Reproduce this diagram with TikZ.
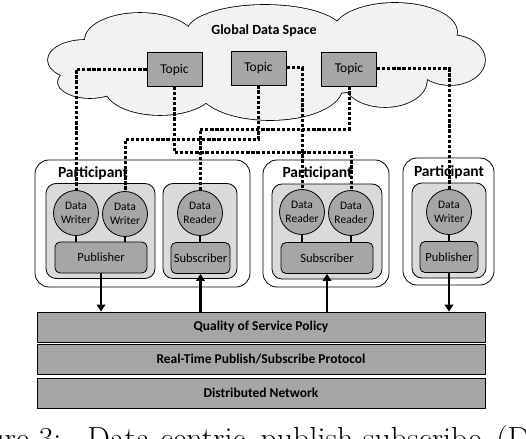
\documentclass[tikz,border=0pt]{standalone}
\usepackage{fontspec}
\setsansfont{Carlito}
\usepackage{tikz}
\usetikzlibrary{positioning, arrows.meta, calc}
\definecolor{CloudGray}{HTML}{F2F2F2}
\definecolor{GroupGray}{HTML}{DADADA}
\definecolor{BoxGray}{HTML}{A6A6A6}
\newcommand{\cloudpuffs}{85/60/37/20, 90/82/32/16, 140/40/55/27, 265/32/78/27, 395/32/62/29,
  450/60/35/25, 385/80/42/27, 270/88/72/32, 160/88/55/27, 265/62/160/35}

\begin{document}
\begin{tikzpicture}[x=1pt, y=-1pt, line width=0.8pt,
      topic/.style={draw, fill=BoxGray, minimum width=55pt, minimum height=34pt, font=\sffamily\fontsize{13.5}{15}\selectfont},
      entity/.style={circle, draw, fill=BoxGray, minimum size=45pt, inner sep=0pt, align=center, font=\sffamily\fontsize{11.5}{14}\selectfont},
      pubsub/.style={draw, fill=BoxGray, rounded corners=5pt, minimum height=31pt, inner sep=1.5pt, font=\sffamily\fontsize{12.5}{14}\selectfont},
      group/.style={draw, fill=GroupGray, rounded corners=10pt, minimum height=95pt},
      participant/.style={draw, fill=white, rounded corners=14pt, minimum height=127pt},
      plabel/.style={inner sep=0pt, font=\sffamily\bfseries\fontsize{15.5}{17}\selectfont},
      layer/.style={draw, fill=BoxGray, minimum width=448pt, minimum height=30pt, font=\sffamily\bfseries\fontsize{13.5}{15}\selectfont},
      dots/.style={line width=3pt, dash pattern=on 3.3pt off 1.8pt},
      tie/.style={line width=2.8pt},
      flow/.style={line width=2.8pt, -{Triangle[length=7pt, width=8.5pt]}}
  ]
    \useasboundingbox (0,0) rectangle (526,438);
    % global data space
    \foreach \cx/\cy/\rx/\ry in \cloudpuffs
      \draw[line width=1.6pt] (\cx,\cy) ellipse [x radius=\rx, y radius=\ry];
    \foreach \cx/\cy/\rx/\ry in \cloudpuffs
      \fill[CloudGray] (\cx,\cy) ellipse [x radius=\rx, y radius=\ry];
    \node[font=\sffamily\bfseries\fontsize{14}{16}\selectfont](gds) at (264,31){Global Data Space};
    \node[topic](t1) at (174.5,69.5){Topic};
    \node[topic](t2) at (258.5,68){Topic};
    \node[topic](t3) at (349,69){Topic};

    % participant 1
    \node[participant, minimum width=215pt](p1) at (142.5,223.5){};
    \node[plabel](p1lbl) at (93,173){Participant};
    \node[group, minimum width=109pt](p1pg) at (100.5,231){};
    \node[group, minimum width=74pt](p1sg) at (200,231){};
    \node[entity](p1w1) at (76,213){Data\\Writer};
    \node[entity](p1w2) at (125,214){Data\\Writer};
    \node[entity](p1r1) at (200,213){Data\\Reader};
    \node[pubsub, minimum width=92pt](p1pub) at (101,257.5){Publisher};
    \node[pubsub, minimum width=59pt](p1sub) at (200.5,258){Subscriber};

    % participant 2
    \node[participant, minimum width=126pt](p3) at (326,223.5){};
    \node[plabel](p3lbl) at (317.5,173){Participant};
    \node[group, minimum width=110pt](p3sg) at (327,231.5){};
    \node[entity](p3r1) at (302,212){Data\\Reader};
    \node[entity](p3r2) at (351,213){Data\\Reader};
    \node[pubsub, minimum width=92pt](p3sub) at (327,258){Subscriber};

    % participant 3
    \node[participant, minimum width=91pt](p4) at (448.5,221.5){};
    \node[plabel](p4lbl) at (449,172){Participant};
    \node[group, minimum width=74pt](p4pg) at (449,230.5){};
    \node[entity](p4w1) at (449,212){Data\\Writer};
    \node[pubsub, minimum width=58pt](p4pub) at (449,257){Publisher};

    % layers
    \node[layer](qos) at (261,327){Quality of Service Policy};
    \node[layer](rtps) at (261,359){Real-Time Publish/Subscribe Protocol};
    \node[layer](net) at (261,393){Distributed Network};

    % topics to writers and readers
    \draw[dots](t1.west) -| (p1w1.north);
    \draw[dots](t1.south) -- ++(0,66) -| (p3r2.north);
    \draw[dots](t2.south) -- ++(0,54) -| (p1w2.north);
    \draw[dots](t2.east) -| (p3r1.north);
    \draw[dots](t3.south) -- ++(0,43) -| (p1r1.north);
    \draw[dots](t3.east) -| (p4w1.north);

    \draw[tie](p1w1.south) -- (p1w1.south |- p1pub.north);
    \draw[tie](p1w2.south) -- (p1w2.south |- p1pub.north);
    \draw[tie](p1r1.south) -- (p1r1.south |- p1sub.north);
    \draw[tie](p3r1.south) -- (p3r1.south |- p3sub.north);
    \draw[tie](p3r2.south) -- (p3r2.south |- p3sub.north);
    \draw[tie](p4w1.south) -- (p4w1.south |- p4pub.north);

    \draw[flow](p1pub.south) -- (p1pub.south |- qos.north);
    \draw[flow](p1sub.south |- qos.north) -- (p1sub.south);
    \draw[flow](p3sub.south |- qos.north) -- (p3sub.south);
    \draw[flow](p4pub.south) -- (p4pub.south |- qos.north);

    % caption, cut off by the page
    \begin{scope}
      \clip (0,0) rectangle (526,438);
      \node[anchor=base west, inner sep=0pt, font=\fontsize{32}{38}\selectfont](caption) at (87,449)
        {\llap{Figure 3:\hspace{26pt}}Data-centric\hspace{15pt}publish-subscribe\hspace{15pt}(DCPS)};
    \end{scope}
  \end{tikzpicture}
\end{document}
